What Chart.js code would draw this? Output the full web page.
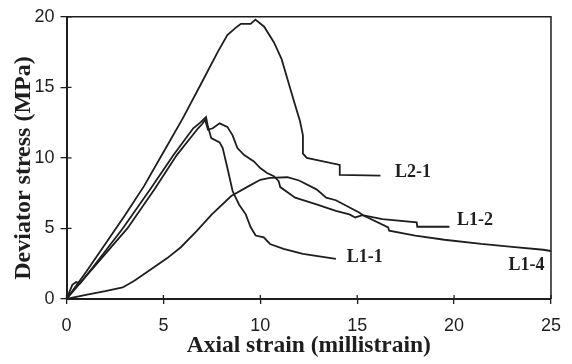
<!DOCTYPE html>
<html>
<head>
<meta charset="utf-8">
<script src="https://cdn.jsdelivr.net/npm/chart.js@4.4.1/dist/chart.umd.min.js"></script>
<style>
    body { margin: 0; background: #fff; }
    #wrap { width: 572px; height: 364px; }
</style>
</head>
<body>
<div id="wrap"><canvas id="diagram" width="572" height="364"></canvas></div>
<script>
// sample names
const specimens = ["L2-1", "L1-2", "L1-1", "L1-4"];

// axial strain (millistrain) / deviator stress (MPa)
const l21Strain = [0, 1, 2, 3, 4, 5, 6, 7, 7.8, 8.3, 8.8, 9.0, 9.5, 9.75, 10.2, 10.7, 11.1, 11.4, 11.7, 12.05, 12.2, 12.2, 12.4, 14.1, 14.1, 16.2];
const l21Stress = [0, 1.9, 3.9, 5.9, 8.0, 10.4, 12.8, 15.4, 17.5, 18.7, 19.3, 19.5, 19.5, 19.8, 19.3, 18.2, 17.0, 15.6, 14.2, 12.6, 11.6, 10.3, 10.0, 9.5, 8.8, 8.75];

const l12Strain = [0, 1, 3.14, 4.55, 5.69, 6.79, 7.0, 7.15, 7.3, 7.55, 7.9, 8.3, 8.57, 8.82, 9.17, 9.67, 10.0, 10.35, 10.7, 10.95, 11.03, 11.8, 12.9, 13.4, 13.9, 14.6, 14.9, 15.27, 16.3, 18.07, 18.1, 19.76];
const l12Stress = [0, 1.6, 5.0, 7.8, 10.2, 12.1, 12.4, 12.7, 12.0, 12.1, 12.45, 12.2, 11.6, 10.7, 10.2, 9.75, 9.28, 8.93, 8.7, 8.35, 7.93, 7.18, 6.7, 6.48, 6.25, 6.0, 5.78, 5.94, 5.66, 5.43, 5.12, 5.12];

const l11Strain = [0, 0.3, 0.5, 0.7, 1.5, 2.9, 4.33, 5.52, 6.54, 6.9, 7.2, 7.3, 7.47, 7.9, 8.06, 8.3, 8.57, 8.9, 9.25, 9.5, 9.76, 10.18, 10.5, 11.2, 12.2, 13.9];
const l11Stress = [0, 1.0, 1.2, 1.1, 2.5, 5.0, 7.8, 10.2, 12.1, 12.5, 12.9, 12.2, 11.4, 11.1, 10.7, 9.3, 7.65, 6.7, 6.0, 5.1, 4.5, 4.37, 3.9, 3.55, 3.2, 2.85];

const l14Strain = [0, 1, 2, 2.9, 3.5, 4.4, 5.2, 5.9, 6.7, 7.5, 8.5, 9.4, 10, 10.5, 11.4, 12.0, 12.9, 13.4, 13.9, 15.1, 15.3, 16.6, 16.65, 18.0, 19.5, 21.4, 23, 24.6, 25];
const l14Stress = [0, 0.3, 0.55, 0.82, 1.3, 2.15, 2.9, 3.67, 4.8, 6.0, 7.3, 8.0, 8.45, 8.58, 8.63, 8.4, 7.77, 7.18, 7.0, 6.13, 5.94, 5.07, 4.84, 4.49, 4.2, 3.9, 3.7, 3.49, 3.4];

const xTicks = [0, 5, 10, 15, 20, 25];
const yTicks = [0, 5, 10, 15, 20];

const ink = 'rgb(30,30,30)';
const serif = '"Liberation Serif", "Times New Roman", serif';

function pairs(xs, ys) {
    return xs.map((x, i) => ({x: x, y: ys[i]}));
}

function curve(label, xs, ys) {
    return {
        label: label,
        data: pairs(xs, ys),
        borderColor: ink,
        borderWidth: 1.8,
        pointRadius: 0,
        tension: 0,
        fill: false
    };
}

// frame on top/right, inner tick marks, y title and the curve names
const frameAndNames = {
    id: 'frameAndNames',
    afterDraw(chart, args, opts) {
        const {ctx, chartArea: a, scales: {x, y}} = chart;
        ctx.save();
        ctx.strokeStyle = ink;
        ctx.lineWidth = 1.5;
        ctx.beginPath();
        ctx.moveTo(a.left, a.top);
        ctx.lineTo(a.right, a.top);
        ctx.lineTo(a.right, a.bottom);
        ctx.stroke();

        ctx.lineWidth = 1.3;
        ctx.beginPath();
        xTicks.forEach(v => {
            const px = x.getPixelForValue(v);
            ctx.moveTo(px, a.bottom);
            ctx.lineTo(px, a.bottom - 4);
        });
        yTicks.forEach(v => {
            const py = y.getPixelForValue(v);
            ctx.moveTo(a.left, py);
            ctx.lineTo(a.left + 5, py);
        });
        ctx.stroke();

        ctx.fillStyle = ink;
        ctx.textAlign = 'center';
        ctx.textBaseline = 'middle';
        ctx.font = 'bold 18px ' + serif;
        opts.spots.forEach(s => {
            ctx.fillText(s.text, x.getPixelForValue(s.x), y.getPixelForValue(s.y));
        });

        // y axis title, a little below the axis middle as in the scan
        ctx.font = 'bold 24px ' + serif;
        ctx.translate(24, 168);
        ctx.rotate(-Math.PI / 2);
        ctx.fillText(opts.yTitle, 0, 0);
        ctx.restore();
    }
};

(
    function () {
        new Chart(
            document.getElementById('diagram'),
            {
                type: 'line',
                data: {
                    datasets: [
                        curve(specimens[0], l21Strain, l21Stress),
                        curve(specimens[1], l12Strain, l12Stress),
                        curve(specimens[2], l11Strain, l11Stress),
                        curve(specimens[3], l14Strain, l14Stress)
                    ]
                },
                options: {
                    responsive: false,
                    animation: false,
                    layout: {
                        padding: {top: 14, right: 14, left: 0, bottom: 0}
                    },
                    plugins: {
                        legend: {display: false},
                        tooltip: {enabled: false},
                        frameAndNames: {
                            yTitle: 'Deviator stress (MPa)',
                            spots: [
                                {text: specimens[0], x: 17.88, y: 8.98},
                                {text: specimens[1], x: 21.08, y: 5.54},
                                {text: specimens[2], x: 15.39, y: 2.95},
                                {text: specimens[3], x: 23.73, y: 2.39}
                            ]
                        }
                    },
                    scales: {
                        x: {
                            type: 'linear',
                            min: 0,
                            max: 25,
                            afterFit: s => { s.height = 65; },
                            afterBuildTicks: s => { s.ticks = xTicks.map(v => ({value: v})); },
                            border: {display: true, color: ink, width: 2},
                            grid: {drawOnChartArea: false, tickLength: 5, color: ink, lineWidth: 1.3},
                            ticks: {
                                color: ink,
                                padding: 11,
                                maxRotation: 0,
                                font: {family: '"Liberation Sans", Arial, sans-serif', size: 18}
                            },
                            title: {
                                display: true,
                                text: 'Axial strain (millistrain)',
                                color: ink,
                                padding: {top: 0, bottom: 4},
                                font: {family: serif, size: 23.5, weight: 'bold'}
                            }
                        },
                        y: {
                            type: 'linear',
                            min: 0,
                            max: 20,
                            afterFit: s => { s.width = 66.5; },
                            afterBuildTicks: s => { s.ticks = yTicks.map(v => ({value: v})); },
                            border: {display: true, color: ink, width: 2},
                            grid: {drawOnChartArea: false, tickLength: 6, color: ink, lineWidth: 1.3},
                            ticks: {
                                color: ink,
                                padding: 6,
                                font: {family: '"Liberation Sans", Arial, sans-serif', size: 18}
                            }
                        }
                    }
                },
                plugins: [frameAndNames]
            }
        );
    })();
</script>
</body>
</html>
